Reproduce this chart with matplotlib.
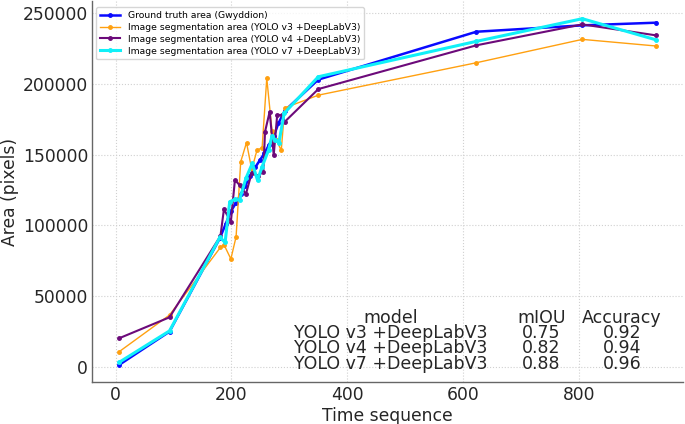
import matplotlib
matplotlib.use("Agg")
import matplotlib.pyplot as plt

# time sequence / area values
gt_x = [6, 93, 180, 190, 199, 208, 216, 224, 232, 241, 249, 257, 265, 273, 281, 292, 350, 623, 806, 934]
gt_y = [1500, 25000, 91000, 101000, 110000, 116000, 122000, 128000, 135000, 141000,
        146000, 151000, 157000, 163000, 172000, 181000, 203000, 236800, 241300, 243200]

v3_x = [6, 93, 181, 187, 199, 208, 216, 226, 235, 244, 253, 261, 270, 278, 286, 292, 350, 623, 806, 934]
v3_y = [10800, 36700, 84500, 86500, 76300, 92000, 145000, 158500, 139500, 153000,
        155000, 204000, 167000, 160000, 153000, 183000, 192000, 214900, 231400, 226700]

v4_x = [6, 93, 181, 187, 199, 206, 214, 225, 235, 245, 255, 258, 266, 273, 279, 287, 292, 350, 623, 806, 934]
v4_y = [20300, 35100, 92500, 111400, 102600, 132100, 128500, 122200, 137200, 134900,
        137900, 166200, 180300, 149700, 178000, 178000, 173200, 196300, 227200, 242000, 234200]

v7_x = [6, 93, 180, 189, 197, 206, 214, 225, 236, 245, 253, 264, 270, 276, 282, 291, 350, 623, 806, 934]
v7_y = [3300, 25500, 91600, 88000, 116700, 118400, 118000, 133300, 143800, 132000,
        141500, 153200, 163100, 160300, 158400, 179200, 205000, 230000, 246000, 231000]

labels = [
    "Ground truth area (Gwyddion)",
    "Image segmentation area (YOLO v3 +DeepLabV3)",
    "Image segmentation area (YOLO v4 +DeepLabV3)",
    "Image segmentation area (YOLO v7 +DeepLabV3)",
]

models = ["YOLO v3 +DeepLabV3", "YOLO v4 +DeepLabV3", "YOLO v7 +DeepLabV3"]
miou = ["0.75", "0.82", "0.88"]
accuracy = ["0.92", "0.94", "0.96"]

fig = plt.figure(figsize=(6.85, 4.24), dpi=100)
ax = fig.add_axes([0.1347, 0.0986, 0.8628, 0.8981])

ax.plot(gt_x, gt_y, color="#0a0aff", lw=1.8, marker="o", ms=2.5, label=labels[0])
ax.plot(v3_x, v3_y, color="#ffa010", lw=1.0, marker="o", ms=2.5, label=labels[1])
ax.plot(v4_x, v4_y, color="#6c0a7a", lw=1.5, marker="o", ms=2.5, label=labels[2])
ax.plot(v7_x, v7_y, color="#10f0f8", lw=2.2, marker="o", ms=2.5, label=labels[3])

ax.grid(True, linestyle=":", color="#d0d0d0", linewidth=0.8)
ax.set_axisbelow(True)
for s in ["top", "right"]:
    ax.spines[s].set_visible(False)
for s in ["left", "bottom"]:
    ax.spines[s].set_color("#666666")
    ax.spines[s].set_linewidth(1.0)
ax.tick_params(length=0, pad=3, labelsize=12.3, colors="#262626")
ax.set_xticks([0, 200, 400, 600, 800])
ax.set_yticks([0, 50000, 100000, 150000, 200000, 250000])
ax.set_xlabel("Time sequence", fontsize=12.3, color="#262626", labelpad=2)
ax.set_ylabel("Area (pixels)", fontsize=12.3, color="#262626", labelpad=3)

ax.legend(loc="upper left", bbox_to_anchor=(0.003, 0.99), fontsize=6.7,
          frameon=True, borderaxespad=0.2, handlelength=2.2, labelspacing=0.32)

# metrics table as text
tc = "#262626"
fs = 12.5
ax.text(0.5055, 0.1555, "model", transform=ax.transAxes, ha="center", va="baseline", fontsize=fs, color=tc)
ax.text(0.760, 0.1555, "mIOU", transform=ax.transAxes, ha="center", va="baseline", fontsize=fs, color=tc)
ax.text(0.895, 0.1555, "Accuracy", transform=ax.transAxes, ha="center", va="baseline", fontsize=fs, color=tc)
row_y = [0.1161, 0.0754, 0.0347]
for m, i, a, yy in zip(models, miou, accuracy, row_y):
    ax.text(0.5055, yy, m, transform=ax.transAxes, ha="center", va="baseline", fontsize=fs, color=tc)
    ax.text(0.7587, yy, i, transform=ax.transAxes, ha="center", va="baseline", fontsize=fs, color=tc)
    ax.text(0.897, yy, a, transform=ax.transAxes, ha="center", va="baseline", fontsize=fs, color=tc)

fig.savefig("out.png", dpi=100)
